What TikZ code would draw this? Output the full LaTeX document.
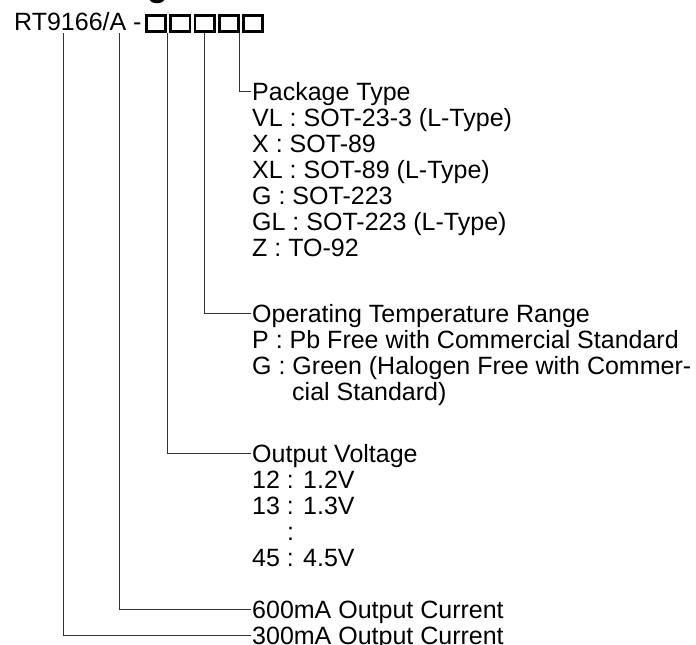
\documentclass[tikz,border=0pt]{standalone}
\usepackage{fontspec}
\setmainfont{Liberation Sans}
\begin{document}
\begin{tikzpicture}[x=1pt,y=-1pt,
  txt/.style={anchor=west,inner sep=0pt,text height=18pt,text depth=0pt,font=\fontsize{25}{26}\selectfont},
  codebox/.style={draw,line width=2.8pt,minimum width=19.2pt,minimum height=16.2pt,inner sep=0pt},
  conn/.style={draw=black!80,line width=1pt,shorten >=1.5pt}]
\useasboundingbox (0,0) rectangle (696,645);
% cut-off heading at the top edge
\begin{scope}
\clip (0,0) rectangle (696,645);
\node[anchor=base west,inner sep=0pt,font=\bfseries\fontsize{34}{34}\selectfont] (head) at (24,-4) {Ordering Information};
\end{scope}
% part number
\node[txt,anchor=base west] (code) at (14,30) {RT9166/A -};
\node[codebox] (b1) at (156,23.5) {};
\node[codebox] (b2) at (180.3,23.5) {};
\node[codebox] (b3) at (204.6,23.5) {};
\node[codebox] (b4) at (228.9,23.5) {};
\node[codebox] (b5) at (253.2,23.5) {};
\coordinate (c1) at (63,33);
\coordinate (c2) at (119,33);
% Package type
\node[txt] (pkg) at (252,91) {Package Type};
\node[txt] (pkg1) at (252,117) {VL : SOT-23-3 (L-Type)};
\node[txt] (pkg2) at (252,143) {X : SOT-89};
\node[txt] (pkg3) at (252,169) {XL : SOT-89 (L-Type)};
\node[txt] (pkg4) at (252,195) {G : SOT-223};
\node[txt] (pkg5) at (252,221) {GL : SOT-223 (L-Type)};
\node[txt] (pkg6) at (252,247) {Z : TO-92};
% Operating temperature range
\node[txt] (opt) at (252,313) {Operating Temperature Range};
\node[txt] (opt1) at (252,339) {P : Pb Free with Commercial Standard};
\node[txt] (opt2) at (252,365) {G : Green (Halogen Free with Commer-};
\node[txt] (opt3) at (292,391) {cial Standard)};
% Output voltage
\node[txt] (ov) at (252,453) {Output Voltage};
\node[txt] (ov1) at (252,479) {12 : 1.2V};
\node[txt] (ov2) at (252,505) {13 : 1.3V};
\node[txt] (ov3) at (287,531) {:};
\node[txt] (ov4) at (252,557) {45 : 4.5V};
% Output current
\node[txt] (i600) at (252,609) {600mA Output Current};
\node[txt] (i300) at (252,635) {300mA Output Current};
% connectors
\draw[conn] (b4.south east) |- (pkg.west);
\draw[conn] (b3.south) |- (opt.west);
\draw[conn] (b1.south east) |- (ov.west);
\draw[conn] (c2) |- (i600.west);
\draw[conn] (c1) |- (i300.west);
\end{tikzpicture}
\end{document}
